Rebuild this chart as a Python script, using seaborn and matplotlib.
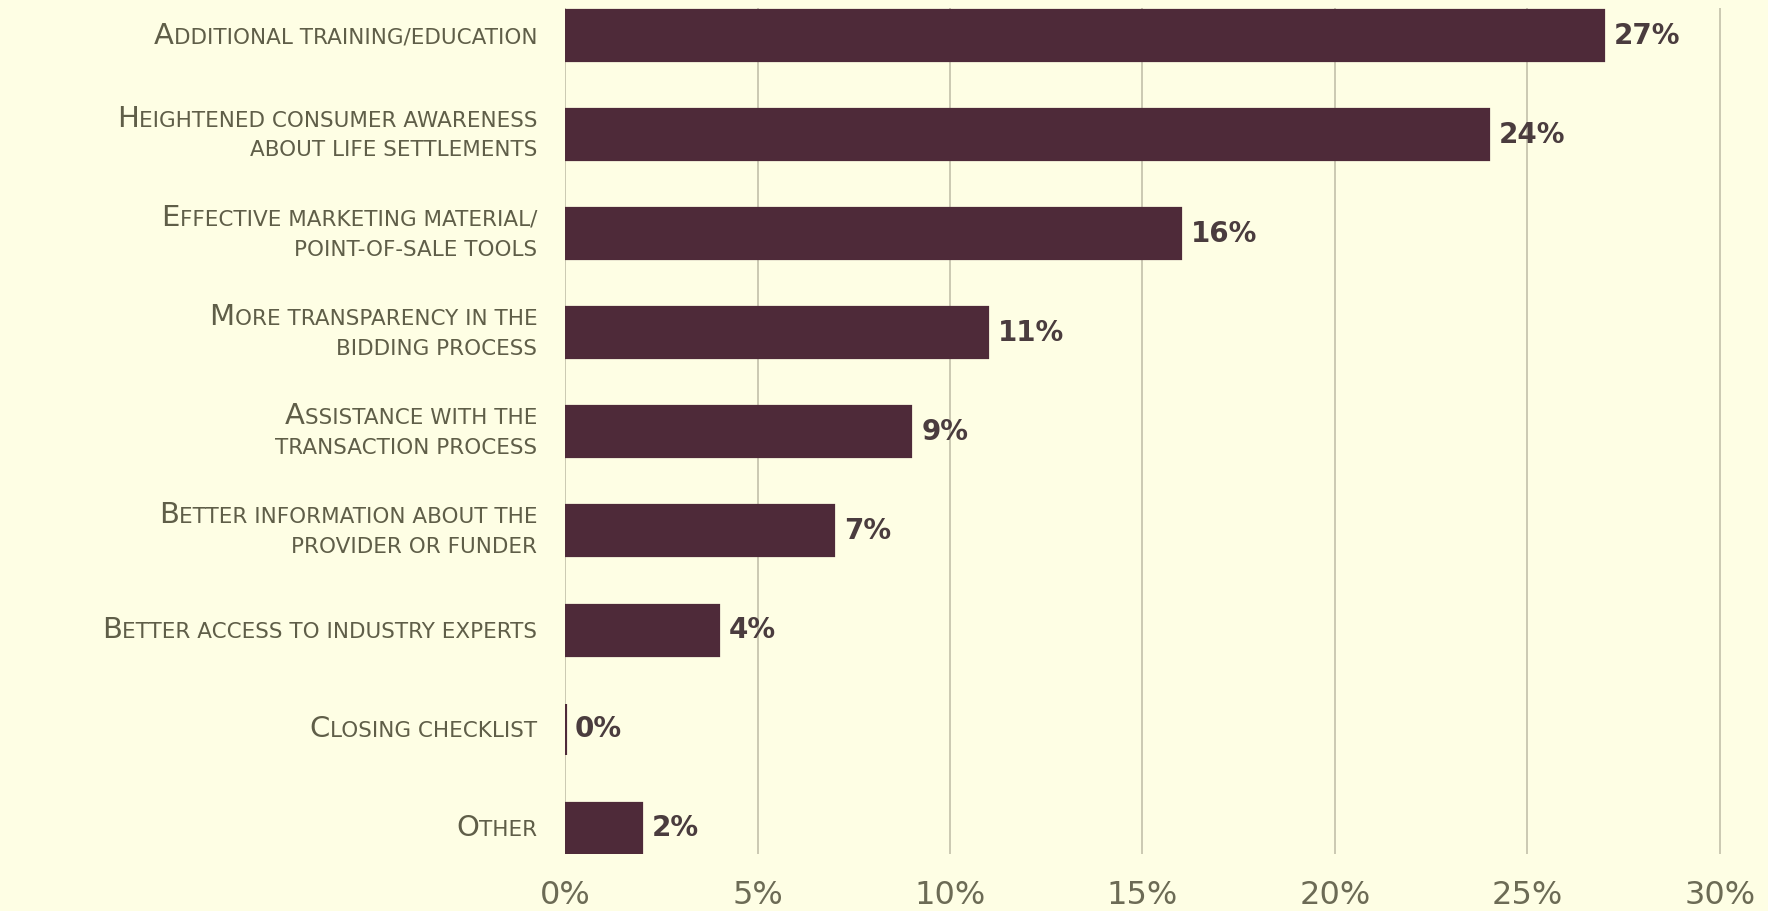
import matplotlib
matplotlib.use("Agg")
import matplotlib.pyplot as plt
from matplotlib.offsetbox import TextArea, HPacker, AnnotationBbox
import seaborn as sns
import pandas as pd

# Survey answers: what would help most with life settlement sales
categories = [
    "Additional training/education",
    "Heightened consumer awareness\nabout life settlements",
    "Effective marketing material/\npoint-of-sale tools",
    "More transparency in the\nbidding process",
    "Assistance with the\ntransaction process",
    "Better information about the\nprovider or funder",
    "Better access to industry experts",
    "Closing checklist",
    "Other",
]
shares = [27, 24, 16, 11, 9, 7, 4, 0, 2]
x_ticks = [0, 5, 10, 15, 20, 25, 30]
x_tick_labels = [f"{t}%" for t in x_ticks]

BG = "#fefee4"
BAR = "#4e2a39"
GRID = "#bdbba5"
TICK_TXT = "#6c6b55"
CAT_TXT = "#5f5e48"
VAL_TXT = "#4a3c3e"

df = pd.DataFrame({"category": categories, "share": shares})

sns.set_theme(style="white")
plt.rcParams["font.family"] = ["DejaVu Sans"]

fig = plt.figure(figsize=(17.68, 9.11), dpi=100, facecolor=BG)
ax = fig.add_axes([0.3196, 0.0626, 0.6575, 0.9286])
ax.set_facecolor(BG)

sns.barplot(data=df, x="share", y="category", orient="h", color=BAR,
            saturation=1, width=0.515, edgecolor=BAR, linewidth=1.6, ax=ax)

# a zero-length bar still shows as a thin stroke
for patch in ax.patches:
    if patch.get_width() == 0:
        patch.set_linewidth(3)

ax.set_xlim(0, 30.2)
ax.set_ylim(8.26, -0.278)
ax.set_xticks(x_ticks)
ax.set_xticklabels(x_tick_labels, fontsize=23, color=TICK_TXT)
ax.tick_params(axis="x", length=0, pad=19)
ax.tick_params(axis="y", length=0, labelleft=False)
ax.set_xlabel("")
ax.set_ylabel("")
for s in ax.spines.values():
    s.set_visible(False)
ax.grid(axis="x", color=GRID, linewidth=1.1)
ax.grid(axis="y", visible=False)
ax.set_axisbelow(True)

# value labels at the end of each bar
ax.bar_label(ax.containers[0], labels=[f"{v}%" for v in shares],
             padding=7, fontsize=20, fontweight="bold", color=VAL_TXT)


def small_caps_line(text, first_big):
    """Build a small-caps line: optional large initial, rest in small capitals."""
    big_size, small_size = 21, 15.5
    props = dict(color=CAT_TXT)
    parts = []
    if first_big:
        parts.append(TextArea(text[0].upper(),
                              textprops=dict(fontsize=big_size, **props)))
        text = text[1:]
    parts.append(TextArea(text.upper(),
                          textprops=dict(fontsize=small_size, **props)))
    if len(parts) == 1:
        return parts[0]
    return HPacker(children=parts, align="baseline", pad=0, sep=0)


trans = ax.get_yaxis_transform()
line_gap = 11.4  # points between a line centre and the bar centre
for i, label in enumerate(categories):
    lines = label.split("\n")
    n = len(lines)
    for j, line in enumerate(lines):
        dy = ((n - 1) / 2 - j) * line_gap * 2 if n > 1 else 0
        box = small_caps_line(line, first_big=(j == 0))
        ab = AnnotationBbox(box, (0, i), xycoords=trans,
                            xybox=(-20, dy), boxcoords="offset points",
                            box_alignment=(1, 0.5), frameon=False,
                            annotation_clip=False)
        ax.add_artist(ab)

fig.savefig("out.png", dpi=100, facecolor=BG)
